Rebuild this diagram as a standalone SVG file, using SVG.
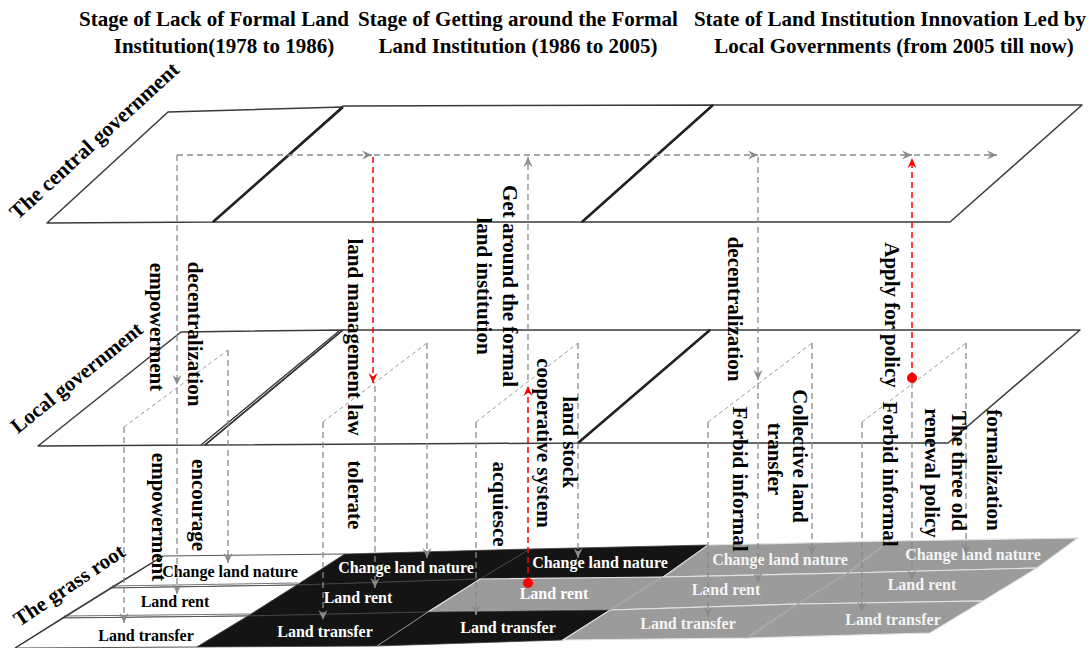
<svg xmlns="http://www.w3.org/2000/svg" width="1091" height="648" viewBox="0 0 1091 648">
<defs>
<marker id="ag" markerUnits="userSpaceOnUse" markerWidth="10" markerHeight="10" refX="10" refY="5" orient="auto" viewBox="0 0 10 10">
<path d="M0,0.5 L10,5 L0,9.5 L3.5,5 Z" fill="#8a8a8a"/>
</marker>
<marker id="ar" markerUnits="userSpaceOnUse" markerWidth="10" markerHeight="10" refX="10" refY="5" orient="auto" viewBox="0 0 10 10">
<path d="M0,0.5 L10,5 L0,9.5 L3.5,5 Z" fill="#ff0000"/>
</marker>
</defs>
<style>
.t{font-family:"Liberation Serif","Times New Roman",serif;font-weight:bold;fill:#000}
.title{font-size:21px;text-anchor:middle}
.vt{font-size:21px;text-anchor:middle}
.side{font-size:21px;text-anchor:middle}
.cell{font-size:16px;text-anchor:middle}
.w{fill:#fff}
.lg{fill:#f4f4f4}
.plane{fill:#fff;stroke:#3a3a3a;stroke-width:1.5;stroke-linejoin:round}
.div{fill:none;stroke:#222;stroke-width:2.6}
.divt{fill:none;stroke:#333;stroke-width:1.3}
.gd{fill:none;stroke:#8a8a8a;stroke-width:1.3;stroke-dasharray:6,4}
.gt{fill:none;stroke:#9a9a9a;stroke-width:1;stroke-dasharray:4,3}
.rd{fill:none;stroke:#ff0000;stroke-width:1.5;stroke-dasharray:6,4}
.cw{fill:#fff;stroke:#555;stroke-width:1}
.cb{fill:#141414;stroke:#444;stroke-width:0.8}
.cg{fill:#9b9b9b;stroke:#e2e2e2;stroke-width:1.2}
.dl{fill:none;stroke:#777;stroke-width:1}
</style>

<g id="titles">
<text class="t title" x="214" y="26">Stage of Lack of Formal Land</text>
<text class="t title" x="224" y="53">Institution(1978 to 1986)</text>
<text class="t title" x="518" y="26">Stage of Getting around the Formal</text>
<text class="t title" x="518" y="53">Land Institution (1986 to 2005)</text>
<text class="t title" x="890" y="26">State of Land Institution Innovation Led by</text>
<text class="t title" x="894" y="53">Local Governments (from 2005 till now)</text>
</g>

<g id="central-government">
<polygon class="plane" points="168,112 343,107 213,222 47,223"/>
<polygon class="plane" points="343,106 713,105 582,222 213,222"/>
<polygon class="plane" points="713,105 1082,105 950,222 582,222"/>
<path class="div" d="M343,107 L213,222 M713,105 L582,222"/>
<text class="t side" font-size="21.5" style="font-size:21.5px" transform="translate(99,146) rotate(-42.5)">The central government</text>
</g>

<g id="local-government">
<polygon class="plane" points="181,332 343,330 205,445 38,446"/>
<polygon class="plane" points="343,330 710,330 578,443 205,445"/>
<polygon class="plane" points="710,330 1080,330 948,443 578,443"/>
<path class="divt" d="M343,330 L205,445 M339,331 L201,445"/>
<path class="div" d="M710,330 L578,443"/>
<text class="t side" transform="translate(81,383) rotate(-39)">Local government</text>
</g>

<g id="grass-root">
<polygon class="cw" points="163,556 345,554 297,585 110,588"/>
<polygon class="cb" points="345,554 530,549 480,579 297,585"/>
<polygon class="cb" points="530,549 708,545 663,577 480,579"/>
<polygon class="cg" points="708,545 890,541 848,573 663,577"/>
<polygon class="cg" points="890,541 1078,538 1037,568 848,573"/>
<polygon class="cw" points="110,588 297,585 248,616 62,618"/>
<polygon class="cb" points="297,585 480,579 428,612 248,616"/>
<polygon class="cg" points="480,579 663,577 610,610 428,612"/>
<polygon class="cg" points="663,577 848,573 798,604 610,610"/>
<polygon class="cg" points="848,573 1037,568 983,601 798,604"/>
<polygon class="cw" points="62,618 248,616 197,647 15,648"/>
<polygon class="cb" points="248,616 428,612 377,646 197,647"/>
<polygon class="cb" points="428,612 610,610 563,640 377,646"/>
<polygon class="cg" points="610,610 798,604 747,638 563,640"/>
<polygon class="cg" points="798,604 983,601 930,633 747,638"/>
<path class="dl" d="M112,586 L298,583 M64,616 L250,614"/>
<path fill="none" stroke="#888" stroke-width="1" d="M663,577 L610,610 M848,573 L798,604 M890,541 L848,573 M798,604 L747,638 M428,612 L377,646"/>
<path fill="none" stroke="#333" stroke-width="1.3" d="M163,556 L15,648"/>
<text class="t side" transform="translate(73,591) rotate(-34)">The grass root</text>
<text class="t cell" x="230" y="577">Change land nature</text>
<text class="t cell" x="175" y="607">Land rent</text>
<text class="t cell" x="146" y="641">Land transfer</text>
<text class="t cell w" x="406" y="573">Change land nature</text>
<text class="t cell w" x="358" y="603">Land rent</text>
<text class="t cell w" x="325" y="637">Land transfer</text>
<text class="t cell w" x="600" y="568">Change land nature</text>
<text class="t cell w" x="554" y="599">Land rent</text>
<text class="t cell w" x="508" y="633">Land transfer</text>
<text class="t cell lg" x="780" y="565">Change land nature</text>
<text class="t cell lg" x="726" y="595">Land rent</text>
<text class="t cell lg" x="688" y="629">Land transfer</text>
<text class="t cell lg" x="973" y="560">Change land nature</text>
<text class="t cell lg" x="922" y="590">Land rent</text>
<text class="t cell lg" x="893" y="625">Land transfer</text>
</g>

<g id="connectors">
<path class="gd" marker-end="url(#ag)" d="M177,155 H372"/>
<path class="gd" marker-end="url(#ag)" d="M374,155 H758"/>
<path class="gd" marker-end="url(#ag)" d="M760,155 H912"/>
<path class="gd" marker-end="url(#ag)" d="M914,155 H997"/>
<path class="gd" marker-end="url(#ag)" d="M177,155 V385"/>
<path class="gd" marker-end="url(#ag)" d="M177,388 V594"/>
<path class="gd" marker-end="url(#ag)" d="M375,386 V588"/>
<path class="gd" marker-end="url(#ag)" d="M528,380 V157"/>
<path class="gd" marker-end="url(#ag)" d="M758,157 V380"/>
<path class="gd" marker-end="url(#ag)" d="M758,383 V583"/>
<path class="gd" marker-end="url(#ag)" d="M912,382 V580"/>
<path class="gt" d="M124,427 L228,350 M323,422 L427,343 M476,422 L578,343 M708,422 L812,343 M862,422 L966,343"/>
<path class="gd" marker-end="url(#ag)" d="M228,350 V563"/>
<path class="gd" marker-end="url(#ag)" d="M124,427 V623"/>
<path class="gd" marker-end="url(#ag)" d="M427,343 V558"/>
<path class="gd" marker-end="url(#ag)" d="M323,422 V620"/>
<path class="gd" marker-end="url(#ag)" d="M578,343 V558"/>
<path class="gd" marker-end="url(#ag)" d="M476,422 V615"/>
<path class="gd" marker-end="url(#ag)" d="M812,343 V555"/>
<path class="gd" marker-end="url(#ag)" d="M708,422 V617"/>
<path class="gd" marker-end="url(#ag)" d="M966,343 V555"/>
<path class="gd" marker-end="url(#ag)" d="M862,422 V612"/>
<path class="rd" marker-end="url(#ar)" d="M373,157 V383"/>
<path class="rd" marker-end="url(#ar)" d="M528,583 V386"/>
<path class="rd" marker-end="url(#ar)" d="M912,378 V158"/>
<circle cx="528" cy="583" r="5" fill="#ff0000"/>
<circle cx="912" cy="378" r="5" fill="#ff0000"/>
</g>

<g id="labels">
<text class="t vt" y="5" transform="translate(155,327) rotate(90)">empowerment</text>
<text class="t vt" y="5" transform="translate(193,334) rotate(90)">decentralization</text>
<text class="t vt" y="5" transform="translate(353,337) rotate(90)">land management law</text>
<text class="t vt" y="5" transform="translate(157,517) rotate(90)">empowerment</text>
<text class="t vt" y="5" transform="translate(197,505) rotate(90)">encourage</text>
<text class="t vt" y="5" transform="translate(353,495) rotate(90)">tolerate</text>
<text class="t vt" y="5" transform="translate(498,504) rotate(90)">acquiesce</text>
<text class="t vt" y="5" transform="translate(568,442) rotate(90)">land stock</text>
<text class="t vt" y="5" transform="translate(542,443) rotate(90)">cooperative system</text>
<text class="t vt" y="5" transform="translate(508,286) rotate(90)">Get around the formal</text>
<text class="t vt" y="5" transform="translate(482,286) rotate(90)">land institution</text>
<text class="t vt" y="5" transform="translate(733,309) rotate(90)">decentralization</text>
<text class="t vt" y="5" transform="translate(738,479) rotate(90)">Forbid informal</text>
<text class="t vt" y="5" transform="translate(798,456) rotate(90)">Collective land</text>
<text class="t vt" y="5" transform="translate(773,459) rotate(90)">transfer</text>
<text class="t vt" y="5" transform="translate(890,315) rotate(90)">Apply for policy</text>
<text class="t vt" y="5" transform="translate(888,474) rotate(90)">Forbid informal</text>
<text class="t vt" y="5" transform="translate(930,473) rotate(90)">renewal policy</text>
<text class="t vt" y="5" transform="translate(957,471) rotate(90)">The three old</text>
<text class="t vt" y="5" transform="translate(992,470) rotate(90)">formalization</text>
</g>
</svg>
